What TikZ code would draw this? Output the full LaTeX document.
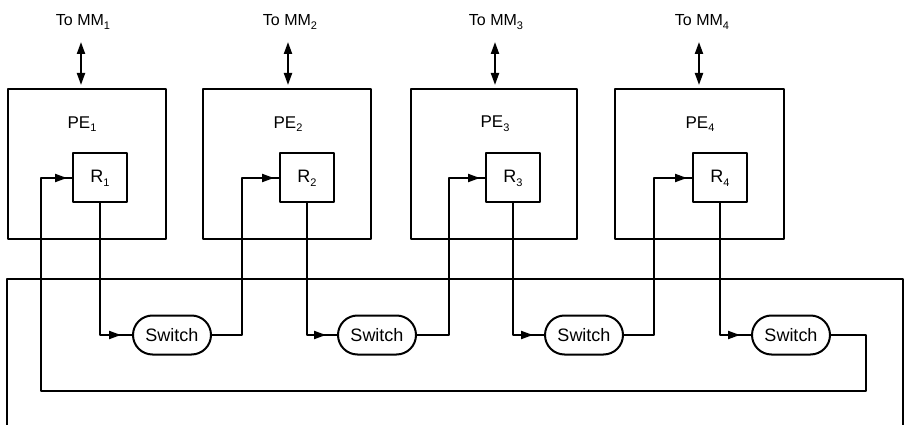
\documentclass[tikz,border=0pt]{standalone}
\usepackage{fontspec}
\setmainfont{Liberation Sans}
\usetikzlibrary{arrows.meta,shapes.misc,decorations.markings,calc}
\newcommand\sbx[1]{\raisebox{-0.4ex}{\fontsize{11}{11}\selectfont #1}}
\tikzset{
  ln/.style={line width=2pt, line join=round},
  pebox/.style={draw, ln, minimum height=150pt, inner sep=0pt},
  rbox/.style={draw, ln, minimum width=54pt, minimum height=49pt, inner sep=0pt, font=\fontsize{18}{18}\selectfont},
  sw/.style={draw, ln, rounded rectangle, minimum width=78pt, minimum height=39pt, inner sep=0pt, font=\fontsize{18}{18}\selectfont},
  lbl/.style={inner sep=0pt, font=\fontsize{17}{17}\selectfont},
  mm/.style={inner sep=0pt, font=\fontsize{16}{16}\selectfont},
  arrend/.style={postaction={decorate}, decoration={markings, mark=at position -#1 with {\arrow{Triangle[length=12pt,width=8pt]}}}}
}
\begin{document}
\begin{tikzpicture}[x=1pt,y=-1pt]
\useasboundingbox (0,0) rectangle (906,425);
% PE boxes
\node[pebox, minimum width=158pt] (PE1) at (87,164) {};
\node[pebox, minimum width=168pt] (PE2) at (287,164) {};
\node[pebox, minimum width=166pt] (PE3) at (494,164) {};
\node[pebox, minimum width=169pt] (PE4) at (699.5,164) {};
% PE labels
\node[lbl] (L1) at (82,124) {PE\sbx{1}};
\node[lbl] (L2) at (288,124) {PE\sbx{2}};
\node[lbl] (L3) at (495,124) {PE\sbx{3}};
\node[lbl] (L4) at (700,124) {PE\sbx{4}};
% R boxes
\node[rbox] (R1) at (100,178) {R\sbx{1}};
\node[rbox] (R2) at (307,178) {R\sbx{2}};
\node[rbox] (R3) at (513,178) {R\sbx{3}};
\node[rbox] (R4) at (720,178) {R\sbx{4}};
% To MM labels
\node[mm] (M1) at (83,22) {To MM\sbx{1}};
\node[mm] (M2) at (290,22) {To MM\sbx{2}};
\node[mm] (M3) at (496,22) {To MM\sbx{3}};
\node[mm] (M4) at (702,22) {To MM\sbx{4}};
\coordinate (T1) at (81,42);
\coordinate (T2) at (288,42);
\coordinate (T3) at (495,42);
\coordinate (T4) at (699,42);
\foreach \i in {1,2,3,4}{
  \draw[ln, {Triangle[length=12pt,width=8pt]}-{Triangle[length=12pt,width=8pt]}, shorten >=3pt] (T\i) -- (T\i |- PE\i.north);
}
% switches
\node[sw] (S1) at (172,335) {Switch};
\node[sw] (S2) at (377,335) {Switch};
\node[sw] (S3) at (584,335) {Switch};
\node[sw] (S4) at (791,335) {Switch};
% outer rectangle (cut off at bottom)
\coordinate (O1) at (7,425);
\coordinate (O2) at (7,279);
\coordinate (O3) at (903,279);
\coordinate (O4) at (903,425);
\draw[ln] (O1) -- (O2) -- (O3) -- (O4);
% R to switch
\foreach \i in {1,2,3,4}{
  \draw[ln, arrend=11pt] (R\i.south) |- (S\i.west);
}
% switch to next R
\coordinate (F2) at (242,178);
\coordinate (F3) at (449,178);
\coordinate (F4) at (654,178);
\draw[ln, arrend=5pt] (S1.east) -| (F2) -- (R2.west);
\draw[ln, arrend=5pt] (S2.east) -| (F3) -- (R3.west);
\draw[ln, arrend=5pt] (S3.east) -| (F4) -- (R4.west);
% wrap-around
\coordinate (W1) at (866,335);
\coordinate (W2) at (866,391);
\coordinate (W3) at (41,391);
\coordinate (W4) at (41,178);
\draw[ln, arrend=5pt] (S4.east) -- (W1) -- (W2) -- (W3) -- (W4) -- (R1.west);
\end{tikzpicture}
\end{document}
